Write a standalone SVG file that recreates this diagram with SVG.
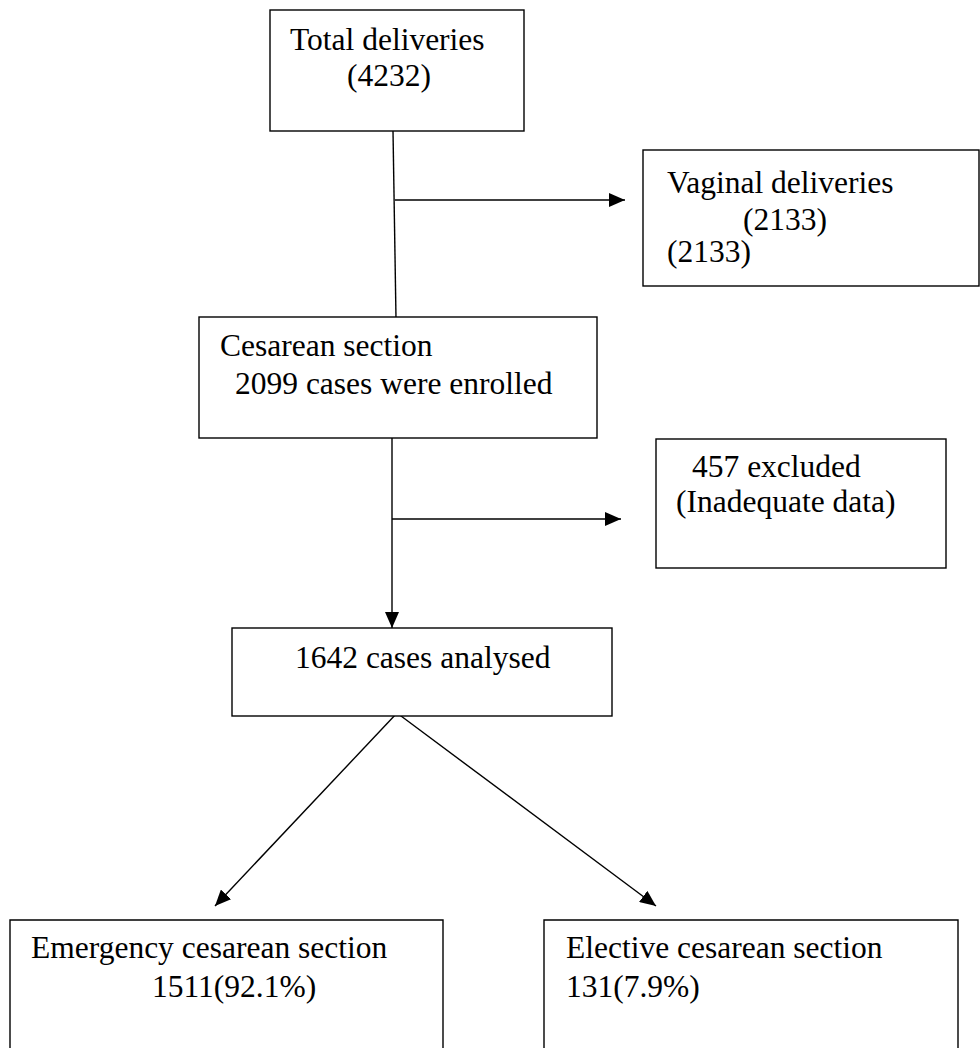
<svg xmlns="http://www.w3.org/2000/svg" width="980" height="1048" viewBox="0 0 980 1048">
  <defs>
    <style>
      .box { fill: #ffffff; stroke: #000000; stroke-width: 1.4; }
      .t { font-family: "Liberation Serif", "Times New Roman", serif; font-size: 31.5px; fill: #000000; }
      .ln { stroke: #000000; stroke-width: 1.4; fill: none; }
    </style>
    <marker id="ah" viewBox="0 0 16 14" refX="16" refY="7" markerWidth="16" markerHeight="14" markerUnits="userSpaceOnUse" orient="auto">
      <path d="M0,0 L16,7 L0,14 Z" fill="#000000"/>
    </marker>
  </defs>
  <rect width="980" height="1048" fill="#ffffff"/>

  <g id="connectors">
    <line class="ln" x1="393" y1="131" x2="396" y2="318"/>
    <line class="ln" x1="395" y1="200" x2="625" y2="200" marker-end="url(#ah)"/>
    <line class="ln" x1="392" y1="438" x2="392" y2="628" marker-end="url(#ah)"/>
    <line class="ln" x1="392" y1="519" x2="621" y2="519" marker-end="url(#ah)"/>
    <line class="ln" x1="397" y1="713" x2="215" y2="906" marker-end="url(#ah)"/>
    <line class="ln" x1="397" y1="713" x2="656" y2="906" marker-end="url(#ah)"/>
  </g>

  <g id="total">
    <rect class="box" x="270" y="10" width="254" height="121"/>
    <text class="t" x="290" y="50">Total deliveries</text>
    <text class="t" x="347" y="86">(4232)</text>
  </g>

  <g id="vaginal">
    <rect class="box" x="643" y="150" width="336" height="136"/>
    <text class="t" x="667" y="193">Vaginal deliveries</text>
    <text class="t" x="743" y="230">(2133)</text>
    <text class="t" x="667" y="262">(2133)</text>
  </g>

  <g id="cesarean">
    <rect class="box" x="199" y="317" width="398" height="121"/>
    <text class="t" x="220" y="356">Cesarean section</text>
    <text class="t" x="235" y="394">2099 cases were enrolled</text>
  </g>

  <g id="excluded">
    <rect class="box" x="656" y="439" width="290" height="129"/>
    <text class="t" x="692" y="477">457 excluded</text>
    <text class="t" x="676" y="512">(Inadequate data)</text>
  </g>

  <g id="analysed">
    <rect class="box" x="232" y="628" width="380" height="88"/>
    <text class="t" x="295" y="668">1642 cases analysed</text>
  </g>

  <g id="emergency">
    <path class="ln" d="M10,1049 L10,920 L443,920 L443,1049"/>
    <text class="t" x="31" y="958">Emergency cesarean section</text>
    <text class="t" x="152" y="997">1511(92.1%)</text>
  </g>

  <g id="elective">
    <path class="ln" d="M544,1049 L544,920 L958,920 L958,1049"/>
    <text class="t" x="566" y="958">Elective cesarean section</text>
    <text class="t" x="566" y="997">131(7.9%)</text>
  </g>
</svg>
